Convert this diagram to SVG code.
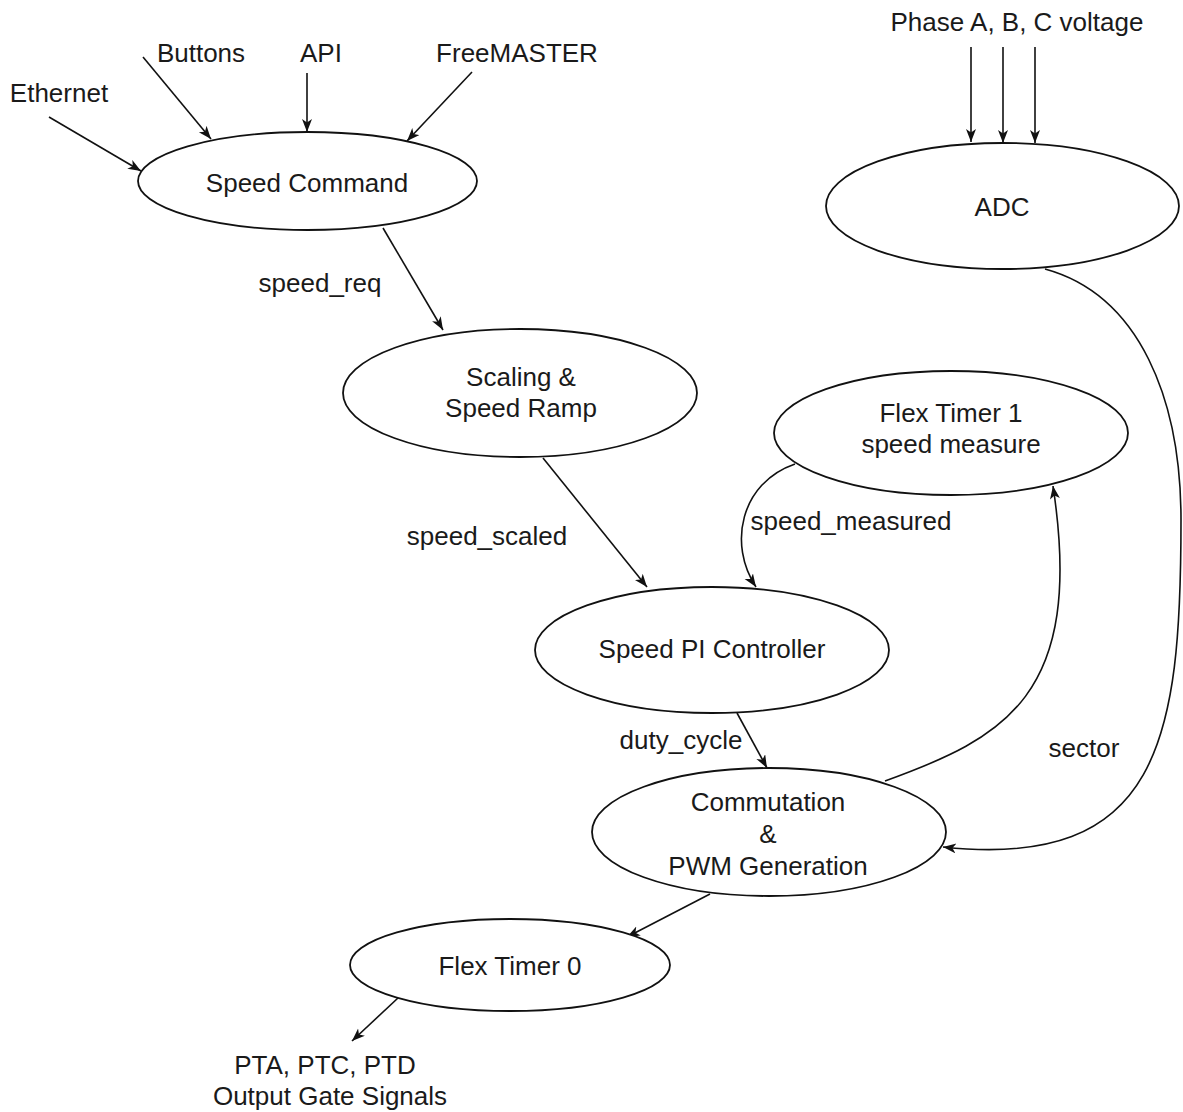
<svg xmlns="http://www.w3.org/2000/svg" width="1183" height="1112" viewBox="0 0 1183 1112">
<defs>
<marker id="arr" markerUnits="userSpaceOnUse" markerWidth="14" markerHeight="11" refX="13" refY="5" orient="auto">
<path d="M0,0 L13,5 L0,10 L3.5,5 z" fill="#111"/>
</marker>
<style>
.n ellipse{fill:#fff;stroke:#111;stroke-width:1.8}
text{font-family:"Liberation Sans",Arial,sans-serif;font-size:26px;fill:#1a1a1a;text-anchor:middle}
.c path,.c line{fill:none;stroke:#111;stroke-width:1.6;marker-end:url(#arr)}
</style>
</defs>
<rect width="1183" height="1112" fill="#fff"/>
<g class="c" id="connectors">
<line x1="49" y1="117" x2="141" y2="171"/>
<line x1="143" y1="57" x2="211" y2="139"/>
<line x1="307" y1="73" x2="307" y2="132"/>
<line x1="472" y1="72" x2="407" y2="141"/>
<line x1="971" y1="47" x2="971" y2="142"/>
<line x1="1003" y1="47" x2="1003" y2="143"/>
<line x1="1035" y1="47" x2="1035" y2="143"/>
<line x1="383" y1="228" x2="443" y2="330"/>
<line x1="543" y1="458" x2="647" y2="587"/>
<line x1="737" y1="713" x2="767" y2="768"/>
<line x1="710" y1="894" x2="627" y2="937"/>
<line x1="398" y1="998" x2="352" y2="1041"/>
<path d="M795,464 C740,483 728,545 756,587"/>
<path d="M885,781 C1004,738 1085,696 1053,486"/>
<path d="M1045,269 C1140,295 1181,400 1181,520 C1181,740 1160,870 943,847"/>
<text x="320" y="292">speed_req</text>
<text x="487" y="545">speed_scaled</text>
<text x="851" y="530">speed_measured</text>
<text x="681" y="749">duty_cycle</text>
<text x="1084" y="757">sector</text>
</g>
<g id="inputs">
<text x="59" y="102">Ethernet</text>
<text x="201" y="62">Buttons</text>
<text x="321" y="62">API</text>
<text x="517" y="62">FreeMASTER</text>
<text x="1017" y="31">Phase A, B, C voltage</text>
</g>
<g class="n" id="speed-command"><ellipse cx="307.5" cy="181" rx="169.5" ry="49"/><text x="307" y="192">Speed Command</text></g>
<g class="n" id="adc"><ellipse cx="1002.5" cy="206" rx="176.5" ry="63"/><text x="1002" y="216">ADC</text></g>
<g class="n" id="scaling"><ellipse cx="520" cy="393" rx="177" ry="64"/><text x="521" y="386">Scaling &amp;</text><text x="521" y="417">Speed Ramp</text></g>
<g class="n" id="flex-timer-1"><ellipse cx="951" cy="433" rx="177" ry="62"/><text x="951" y="422">Flex Timer 1</text><text x="951" y="453">speed measure</text></g>
<g class="n" id="speed-pi"><ellipse cx="712" cy="650" rx="177" ry="63"/><text x="712" y="658">Speed PI Controller</text></g>
<g class="n" id="commutation"><ellipse cx="769" cy="832" rx="177" ry="64"/><text x="768" y="811">Commutation</text><text x="768" y="843">&amp;</text><text x="768" y="875">PWM Generation</text></g>
<g class="n" id="flex-timer-0"><ellipse cx="510" cy="965" rx="160" ry="46"/><text x="510" y="975">Flex Timer 0</text></g>
<g id="outputs"><text x="325" y="1074">PTA, PTC, PTD</text><text x="330" y="1105">Output Gate Signals</text></g>
</svg>
